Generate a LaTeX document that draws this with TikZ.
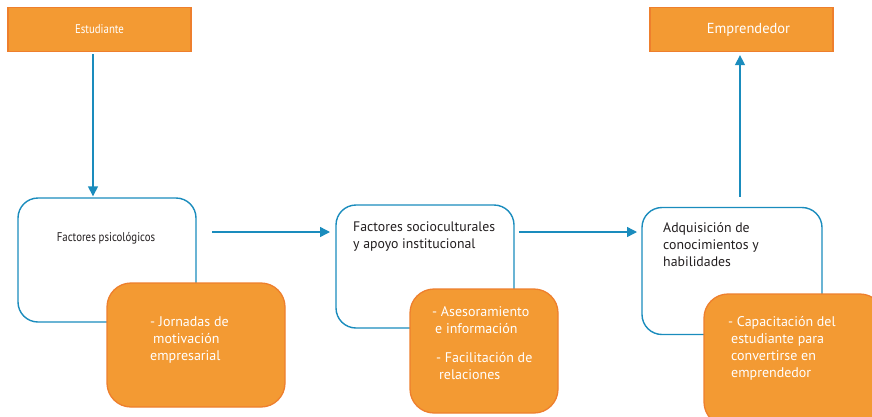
\documentclass[tikz,border=0pt]{standalone}
\usepackage{fontspec}
\setmainfont{PT Sans}
\newfontfamily\cond[FakeStretch=0.86]{PT Sans}
\usetikzlibrary{arrows.meta}
\definecolor{bl}{HTML}{1A8CBD}
\definecolor{orf}{HTML}{F39A33}
\definecolor{ord}{HTML}{EE7F2D}
\definecolor{tx}{HTML}{231F20}
\tikzset{
  topbox/.style={draw=ord, line width=1.3pt, fill=orf, text=white, minimum width=183pt, minimum height=44pt, inner sep=0pt},
  bluebox/.style={draw=bl, line width=1.4pt, fill=white, rounded corners=20pt, inner sep=0pt},
  orbox/.style={draw=ord, line width=1.3pt, fill=orf, rounded corners=24pt, inner sep=0pt},
  btext/.style={text=tx, align=left, anchor=west, inner sep=0pt, font=\fontsize{13.8}{17}\selectfont},
  otext/.style={text=white, align=left, anchor=west, inner sep=0pt, font=\fontsize{14}{17}\selectfont},
  arr/.style={draw=bl, line width=1.4pt, -{Triangle[length=10pt,width=10pt]}}
}
\begin{document}
\begin{tikzpicture}[x=1pt,y=-1pt]
\useasboundingbox (0,0) rectangle (872,416);
\clip (0,0) rectangle (872,416);
% top boxes
\node[topbox, font=\cond\fontsize{12.6}{14}\selectfont] (est) at (99.5,29.5) {Estudiante};
\node[topbox, font=\fontsize{14.5}{16}\selectfont] (emp) at (741.5,29.5) {\hspace{14pt}Emprendedor};
% blue boxes
\node[bluebox, minimum width=178pt, minimum height=124pt] (b1) at (107,260) {};
\node[bluebox, minimum width=178pt, minimum height=123pt] (b2) at (425,266.5) {};
\node[bluebox, minimum width=180pt, minimum height=127pt] (b3) at (732,271) {};
% orange boxes
\node[orbox, minimum width=178pt, minimum height=124pt] (o1) at (196,345) {};
\node[orbox, minimum width=148pt, minimum height=124pt] (o2) at (484,351) {};
\node[orbox, minimum width=180pt, minimum height=132pt] (o3) at (794,360) {};
% texts
\node[btext, anchor=center, font=\cond\fontsize{12.6}{14}\selectfont] (t1) at (106,238) {Factores psicológicos};
\node[btext] (t2) at (353,236.5) {Factores socioculturales\\y apoyo institucional};
\node[btext] (t3) at (663,245) {Adquisición de\\conocimientos y\\habilidades};
\node[otext] (u1) at (150,340) {- Jornadas de\\\hspace{3pt}motivación\\empresarial};
\node[otext] (u2) at (432,320) {- Asesoramiento\\\hspace{3pt}e información};
\node[otext] (u3) at (436,366.5) {- Facilitación de\\\hspace{3pt}relaciones};
\node[otext] (u4) at (728,348.5) {- Capacitación del\\\hspace{3pt}estudiante para\\\hspace{3pt}convertirse en\\\hspace{3pt}emprendedor};
% connectors
\coordinate (a1s) at (212,232);
\coordinate (a1e) at (330,232);
\coordinate (a2s) at (519,232);
\coordinate (a2e) at (637,232);
\draw[arr] ([yshift=-2pt]est.south -| 93,0) -- ([yshift=1pt]b1.north -| 93,0);
\draw[arr] (a1s) -- (a1e);
\draw[arr] (a2s) -- (a2e);
\draw[arr] ([yshift=10pt]b3.north -| 740,0) -- ([yshift=-3pt]emp.south -| 740,0);
\end{tikzpicture}
\end{document}
